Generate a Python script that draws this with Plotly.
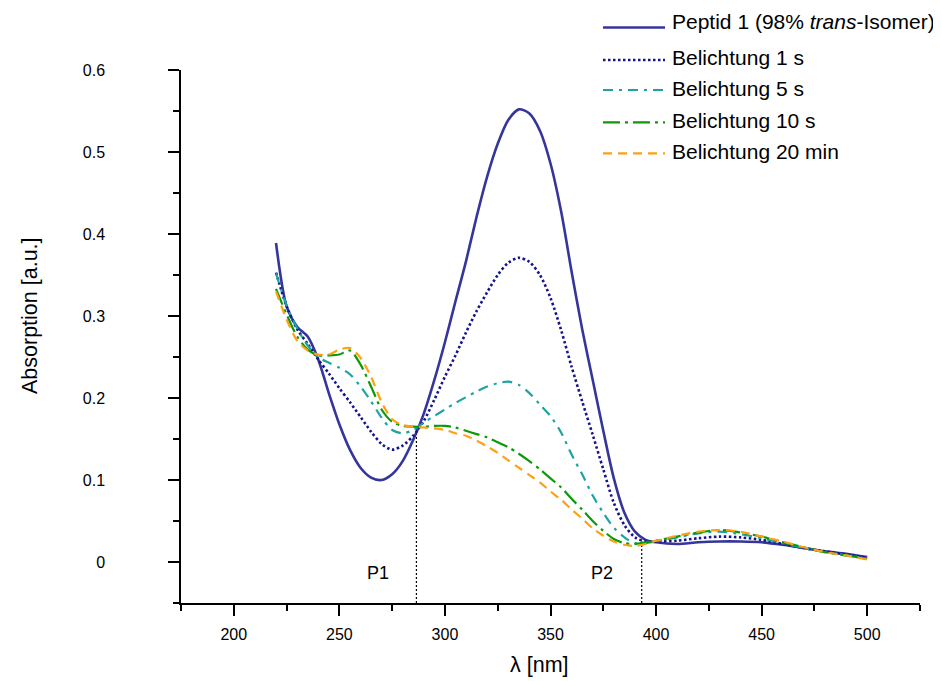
import plotly.graph_objects as go

# ---------------- data ----------------
wavelength = [220, 225, 230, 235, 240, 245, 250, 255, 260, 265, 270, 275, 280, 285,
              290, 295, 300, 305, 310, 315, 320, 325, 330, 335, 340, 345, 350, 355,
              360, 365, 370, 375, 380, 385, 390, 395, 400, 410, 420, 430, 440, 450,
              460, 470, 480, 490, 500]

peptid_trans = [0.389, 0.312, 0.287, 0.275, 0.247, 0.206, 0.168, 0.137, 0.115, 0.103,
                0.100, 0.107, 0.123, 0.149, 0.181, 0.222, 0.268, 0.318, 0.367, 0.421,
                0.470, 0.510, 0.539, 0.552, 0.547, 0.526, 0.486, 0.428, 0.354, 0.284,
                0.222, 0.160, 0.102, 0.060, 0.037, 0.027, 0.024, 0.022, 0.024, 0.025,
                0.025, 0.024, 0.021, 0.017, 0.013, 0.010, 0.006]

belichtung_1s = [0.353, 0.312, 0.284, 0.266, 0.247, 0.230, 0.212, 0.195, 0.177, 0.159,
                 0.144, 0.137, 0.142, 0.154, 0.172, 0.198, 0.226, 0.252, 0.280, 0.306,
                 0.329, 0.350, 0.365, 0.371, 0.366, 0.350, 0.322, 0.283, 0.238, 0.196,
                 0.155, 0.113, 0.072, 0.045, 0.030, 0.025, 0.025, 0.026, 0.029, 0.031,
                 0.030, 0.027, 0.022, 0.017, 0.013, 0.009, 0.005]

belichtung_5s = [0.352, 0.313, 0.285, 0.264, 0.250, 0.243, 0.237, 0.229, 0.214, 0.196,
                 0.176, 0.161, 0.157, 0.161, 0.170, 0.178, 0.186, 0.194, 0.201, 0.208,
                 0.214, 0.218, 0.220, 0.216, 0.206, 0.192, 0.178, 0.158, 0.131, 0.107,
                 0.081, 0.060, 0.042, 0.030, 0.023, 0.023, 0.025, 0.030, 0.035, 0.037,
                 0.034, 0.029, 0.023, 0.017, 0.012, 0.008, 0.004]

belichtung_10s = [0.333, 0.302, 0.275, 0.259, 0.252, 0.252, 0.253, 0.258, 0.241, 0.214,
                  0.186, 0.171, 0.166, 0.165, 0.165, 0.166, 0.166, 0.164, 0.160, 0.156,
                  0.152, 0.146, 0.140, 0.132, 0.123, 0.113, 0.102, 0.091, 0.077, 0.064,
                  0.050, 0.038, 0.028, 0.023, 0.022, 0.024, 0.026, 0.031, 0.036, 0.039,
                  0.036, 0.031, 0.024, 0.018, 0.012, 0.008, 0.004]

belichtung_20min = [0.330, 0.296, 0.270, 0.258, 0.253, 0.253, 0.259, 0.261, 0.249, 0.226,
                    0.195, 0.174, 0.167, 0.165, 0.164, 0.163, 0.161, 0.157, 0.154, 0.148,
                    0.141, 0.133, 0.124, 0.115, 0.106, 0.097, 0.086, 0.076, 0.064, 0.053,
                    0.041, 0.032, 0.025, 0.021, 0.0195, 0.022, 0.026, 0.032, 0.037, 0.039,
                    0.037, 0.031, 0.025, 0.018, 0.012, 0.008, 0.003]

series_names = ["Peptid 1 (98% <i>trans</i>-Isomer)", "Belichtung 1 s", "Belichtung 5 s",
                "Belichtung 10 s", "Belichtung 20 min"]

# isosbestic points (wavelength, absorption) and their labels
iso_points_x = [286.5, 393.2]
iso_points_y = [0.163, 0.025]
iso_labels = ["P1", "P2"]
iso_label_x = [268.3, 374.6]
iso_label_y = [-0.0135, -0.0135]

x_ticks = [200, 250, 300, 350, 400, 450, 500]
y_ticks = [0, 0.1, 0.2, 0.3, 0.4, 0.5, 0.6]
y_tick_labels = ["0", "0.1", "0.2", "0.3", "0.4", "0.5", "0.6"]

# ---------------- layout geometry ----------------
PAGE_OFFSET = 8            # default body margin of the html page
W, H = 941 - PAGE_OFFSET, 681 - PAGE_OFFSET
ML, MR, MT, MB = 173, 21, 62, 78
FONT = "Liberation Sans, Arial, Helvetica, sans-serif"

styles = [
    dict(color="#35359b", width=2.6, dash="solid"),
    dict(color="#14148c", width=2.6, dash="2.5px,2.5px"),
    dict(color="#1ea3a3", width=2.2, dash="10px,6px,3px,6px"),
    dict(color="#0a9a0a", width=2.2, dash="17px,5px,3px,5px"),
    dict(color="#ffa012", width=2.2, dash="9px,6px"),
]
all_series = [peptid_trans, belichtung_1s, belichtung_5s, belichtung_10s, belichtung_20min]

fig = go.Figure()
for name, ys, st in zip(series_names, all_series, styles):
    fig.add_trace(go.Scatter(
        x=wavelength, y=ys, mode="lines", name=name, showlegend=False,
        line=dict(color=st["color"], width=st["width"], dash=st["dash"],
                  shape="spline", smoothing=0.8),
    ))

# dotted drop lines at the isosbestic points
for px_, py_ in zip(iso_points_x, iso_points_y):
    fig.add_shape(type="line", xref="x", yref="y", x0=px_, x1=px_, y0=-0.05, y1=py_,
                  line=dict(color="black", width=1.2, dash="2px,2px"), layer="below")
for lab, lx, ly in zip(iso_labels, iso_label_x, iso_label_y):
    fig.add_annotation(x=lx, y=ly, xref="x", yref="y", text=lab, showarrow=False,
                       font=dict(family=FONT, size=18, color="black"),
                       xanchor="center", yanchor="middle")

# ---------------- manual legend (page pixel layout -> paper coords) ----------------
pw, ph = W - ML - MR, H - MT - MB


def paper_x(page_px):
    return (page_px - PAGE_OFFSET - ML) / pw


def paper_y(page_py):
    return (H - MB - (page_py - PAGE_OFFSET)) / ph


legend_line_y = [27.5, 60.0, 90.0, 122.3, 153.3]
legend_text_y = [21.5, 57.5, 88.3, 120.7, 151.7]
for name, st, ly, ty in zip(series_names, styles, legend_line_y, legend_text_y):
    fig.add_shape(type="line", xref="paper", yref="paper",
                  x0=paper_x(603), x1=paper_x(665), y0=paper_y(ly), y1=paper_y(ly),
                  line=dict(color=st["color"], width=st["width"], dash=st["dash"]))
    fig.add_annotation(x=paper_x(670), y=paper_y(ty), xref="paper", yref="paper",
                       text=name, showarrow=False, xanchor="left", yanchor="middle",
                       font=dict(family=FONT, size=21, color="black"))

# axis titles
fig.add_annotation(x=paper_x(30), y=0.3, xref="paper", yref="y", text="Absorption [a.u.]",
                   textangle=-90, showarrow=False, xanchor="center", yanchor="middle",
                   font=dict(family=FONT, size=21.5, color="black"))
fig.add_annotation(x=345, y=paper_y(665), xref="x", yref="paper", text="λ [nm]",
                   showarrow=False, xanchor="center", yanchor="middle",
                   font=dict(family=FONT, size=21.5, color="black"))

axis_common = dict(showline=True, linecolor="black", linewidth=1.5, ticks="outside",
                   ticklen=11, tickwidth=1.5, tickcolor="black", showgrid=False,
                   zeroline=False, mirror=False,
                   tickfont=dict(family=FONT, size=16, color="black"))

fig.update_xaxes(range=[175, 525], tickvals=x_ticks, ticklabelstandoff=5,
                 minor=dict(ticks="outside", ticklen=6, tickwidth=1.5, tickcolor="black",
                            dtick=25, tick0=175, showgrid=False),
                 **axis_common)
fig.update_yaxes(range=[-0.05, 0.6], tickvals=y_ticks, ticktext=y_tick_labels,
                 ticklabelstandoff=60,
                 minor=dict(ticks="outside", ticklen=6, tickwidth=1.5, tickcolor="black",
                            dtick=0.05, tick0=0, showgrid=False),
                 **axis_common)

fig.update_layout(width=W, height=H, margin=dict(l=ML, r=MR, t=MT, b=MB, pad=0),
                  paper_bgcolor="white", plot_bgcolor="white", showlegend=False,
                  font=dict(family=FONT, color="black"))

fig.write_html("out.html")
